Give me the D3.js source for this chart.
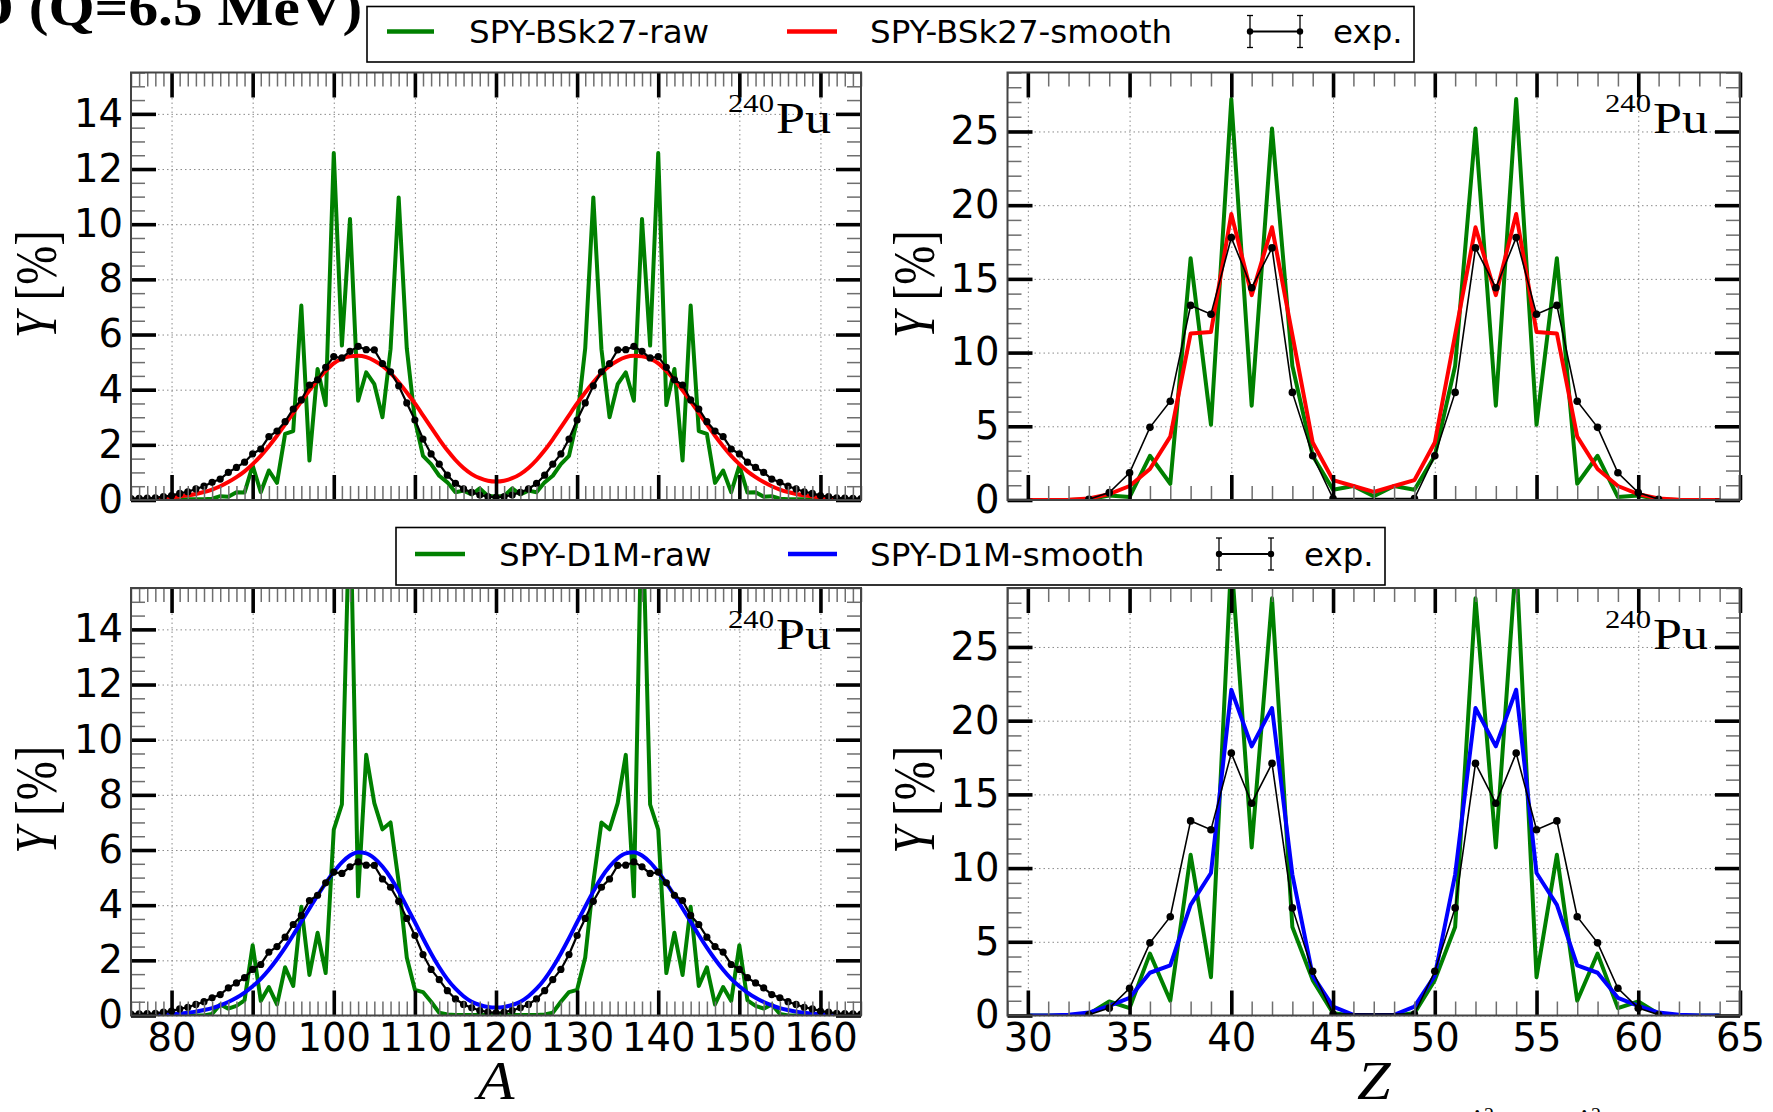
<!DOCTYPE html>
<html>
<head>
<meta charset="utf-8">
<title>240Pu fission yields</title>
<script src="https://cdn.jsdelivr.net/npm/d3@7"></script>
<style>
  body { margin: 0; background: #fff; }
  svg { display: block; }
</style>
</head>
<body>
<div id="chart"></div>
<script>
// ---- data -------------------------------------------------------------
// mass yields, A = 75..165 (exp) and 78..162 (SPY)
const expA = d3.range(75, 166);
const expYieldA = [
  0.05,0.06,0.07,0.08,0.12,0.16,0.24,0.30,0.40,0.50,
  0.64,0.76,1.00,1.18,1.37,1.67,1.85,2.30,2.50,2.84,
  3.30,3.63,4.17,4.36,4.81,5.20,5.15,5.39,5.57,5.45,
  5.44,4.95,4.65,4.14,3.52,2.90,2.21,1.67,1.30,0.90,
  0.60,0.40,0.28,0.18,0.12,0.10,
  0.12,0.18,0.28,0.40,0.60,0.90,1.30,1.67,2.21,2.90,
  3.52,4.14,4.65,4.95,5.44,5.45,5.57,5.39,5.15,5.20,
  4.81,4.36,4.17,3.63,3.30,2.84,2.50,2.30,1.85,1.67,
  1.37,1.18,1.00,0.76,0.64,0.50,0.40,0.30,0.24,0.16,
  0.12,0.08,0.07,0.06,0.05
];

const spyA = d3.range(78, 163);
const bskRawA = [
  0.02,0.02,0.02,0.02,0.03,0.03,0.03,0.05,0.14,0.12,
  0.28,0.27,1.25,0.28,1.07,0.62,2.40,2.50,7.05,1.43,
  4.75,3.44,12.58,5.60,10.19,3.60,4.63,4.20,3.00,5.47,
  10.97,5.50,2.90,1.60,1.30,0.88,0.64,0.28,0.34,0.20,
  0.42,0.15,0.12,
  0.15,0.42,
  0.20,0.34,0.28,0.64,0.88,1.30,1.60,2.90,5.50,10.97,
  5.47,3.00,4.20,4.63,3.60,10.19,5.60,12.58,3.44,4.75,
  1.43,7.05,2.50,2.40,0.62,1.07,0.28,1.25,0.27,0.28,
  0.12,0.14,0.05,0.03,0.03,0.03,0.02,0.02,0.02,0.02
];
const bskSmoothA = [
  0.05,0.07,0.10,0.13,0.17,0.22,0.29,0.38,0.50,0.65,
  0.83,1.04,1.30,1.60,1.95,2.33,2.74,3.16,3.58,3.98,
  4.35,4.68,4.95,5.12,5.21,5.23,5.18,5.05,4.86,4.60,
  4.27,3.90,3.50,3.07,2.63,2.20,1.80,1.45,1.16,0.94,
  0.79,0.70,0.67,
  0.70,0.79,
  0.94,1.16,1.45,1.80,2.20,2.63,3.07,3.50,3.90,4.27,
  4.60,4.86,5.05,5.18,5.23,5.21,5.12,4.95,4.68,4.35,
  3.98,3.58,3.16,2.74,2.33,1.95,1.60,1.30,1.04,0.83,
  0.65,0.50,0.38,0.29,0.22,0.17,0.13,0.10,0.07,0.05
];
const d1mRawA = [
  0,0,0,0,0,0,0,0.06,0.40,0.25,
  0.35,0.55,2.55,0.53,1.03,0.40,1.75,1.07,3.94,1.47,
  3.00,1.54,6.74,7.65,19.0,4.32,9.45,7.70,6.75,7.00,
  4.84,2.10,0.93,0.85,0.50,0.10,0.04,0.02,0.02,0.02,
  0.02,0.02,0.02,
  0.02,0.02,
  0.02,0.02,0.02,0.04,0.10,0.50,0.85,0.93,2.10,4.84,
  7.00,6.75,7.70,9.45,4.32,19.0,7.65,6.74,1.54,3.00,
  1.47,3.94,1.07,1.75,0.40,1.03,0.53,2.55,0.55,0.35,
  0.25,0.40,0.06,0,0,0,0,0,0,0
];
const d1mSmoothA = [
  0.02,0.03,0.05,0.07,0.10,0.14,0.20,0.27,0.37,0.49,
  0.64,0.83,1.06,1.33,1.66,2.04,2.46,2.92,3.40,3.88,
  4.35,4.80,5.20,5.55,5.80,5.92,5.88,5.70,5.40,5.00,
  4.50,3.95,3.38,2.80,2.25,1.75,1.32,0.97,0.70,0.50,
  0.38,0.31,0.29,
  0.31,0.38,
  0.50,0.70,0.97,1.32,1.75,2.25,2.80,3.38,3.95,4.50,
  5.00,5.40,5.70,5.88,5.92,5.80,5.55,5.20,4.80,4.35,
  3.88,3.40,2.92,2.46,2.04,1.66,1.33,1.06,0.83,0.64,
  0.49,0.37,0.27,0.20,0.14,0.10,0.07,0.05,0.03,0.02
];

// charge yields, Z = 30..64
const spyZ = d3.range(30, 65);
const bskRawZ = [0,0,0,0.05,0.3,0.2,3.0,1.1,16.4,5.1,27.2,6.4,25.2,9.1,3.0,0.7,0.95,0.25,
  0.95,0.7,3.0,9.1,25.2,6.4,27.2,5.1,16.4,1.1,3.0,0.2,0.3,0.05,0,0,0];
const bskSmoothZ = [0,0,0.02,0.1,0.4,0.95,2.1,4.3,11.3,11.4,19.4,13.9,18.5,11.2,3.9,1.35,0.95,0.55,
  0.95,1.35,3.9,11.2,18.5,13.9,19.4,11.4,11.3,4.3,2.1,0.95,0.4,0.1,0.02,0,0];
const d1mRawZ = [0,0,0,0.1,0.95,0.5,4.2,1.0,10.9,2.6,31.0,11.4,28.3,6.0,2.4,0.15,0,0,
  0,0.15,2.4,6.0,28.3,11.4,31.0,2.6,10.9,1.0,4.2,0.5,0.95,0.1,0,0,0];
const d1mSmoothZ = [0,0,0.05,0.2,0.65,1.2,2.9,3.4,7.5,9.67,22.1,18.26,20.86,9.56,2.7,0.6,0.05,0.02,
  0.05,0.6,2.7,9.56,20.86,18.26,22.1,9.67,7.5,3.4,2.9,1.2,0.65,0.2,0.05,0,0];
const expZ = [33,34,35,36,37,38,39,40,41,42,43,44,45,49,50,51,52,53,54,55,56,57,58,59,60,61];
const expYieldZ = [0.05,0.5,1.85,4.93,6.7,13.2,12.6,17.8,14.4,17.1,7.3,3.0,0.1,
  0.1,3.0,7.3,17.1,14.4,17.8,12.6,13.2,6.7,4.93,1.85,0.5,0.05];

// ticks
const aTicks = [80, 90, 100, 110, 120, 130, 140, 150, 160];
const zTicks = [30, 35, 40, 45, 50, 55, 60, 65];
const yTicksA = [0, 2, 4, 6, 8, 10, 12, 14];
const yTicksZ = [0, 5, 10, 15, 20, 25];

// ---- layout -----------------------------------------------------------
const W = 1773, H = 1112;
const SX = 1.12;           // serif glyphs in the reference are a bit wide
const green = "#008000";

const svg = d3.select("#chart").append("svg")
  .attr("width", W).attr("height", H)
  .attr("viewBox", `0 0 ${W} ${H}`);

const zip = (xs, ys) => xs.map((v, i) => [v, ys[i]]);

const panels = [
  { id: "p0", x0: 131, x1: 861, y0: 72.5, y1: 500, xDom: [75, 165], yDom: [0, 15.5],
    xMajor: aTicks, xMinor: d3.range(75, 166), yMajor: yTicksA, yMinor: d3.range(0, 15.6, 0.5),
    raw: zip(spyA, bskRawA), smooth: zip(spyA, bskSmoothA), smoothColor: "#ff0000",
    exp: zip(expA, expYieldA), mass: true, xLabels: false },
  { id: "p1", x0: 1007.5, x1: 1740, y0: 72.5, y1: 500, xDom: [29, 65], yDom: [0, 29],
    xMajor: zTicks, xMinor: d3.range(29, 66), yMajor: yTicksZ, yMinor: d3.range(0, 30),
    raw: zip(spyZ, bskRawZ), smooth: zip(spyZ, bskSmoothZ), smoothColor: "#ff0000",
    exp: zip(expZ, expYieldZ), mass: false, xLabels: false },
  { id: "p2", x0: 131, x1: 861, y0: 588, y1: 1015.5, xDom: [75, 165], yDom: [0, 15.5],
    xMajor: aTicks, xMinor: d3.range(75, 166), yMajor: yTicksA, yMinor: d3.range(0, 15.6, 0.5),
    raw: zip(spyA, d1mRawA), smooth: zip(spyA, d1mSmoothA), smoothColor: "#0000ff",
    exp: zip(expA, expYieldA), mass: true, xLabels: true },
  { id: "p3", x0: 1007.5, x1: 1740, y0: 588, y1: 1015.5, xDom: [29, 65], yDom: [0, 29],
    xMajor: zTicks, xMinor: d3.range(29, 66), yMajor: yTicksZ, yMinor: d3.range(0, 30),
    raw: zip(spyZ, d1mRawZ), smooth: zip(spyZ, d1mSmoothZ), smoothColor: "#0000ff",
    exp: zip(expZ, expYieldZ), mass: false, xLabels: true }
];

function stretched(sel, x, y) {
  return sel.attr("transform", `translate(${x},${y}) scale(${SX},1)`);
}

panels.forEach(p => {
  const x = d3.scaleLinear().domain(p.xDom).range([p.x0, p.x1]);
  const y = d3.scaleLinear().domain(p.yDom).range([p.y1, p.y0]);
  const g = svg.append("g");

  svg.append("clipPath").attr("id", "clip-" + p.id)
    .append("rect").attr("x", p.x0).attr("y", p.y0)
    .attr("width", p.x1 - p.x0).attr("height", p.y1 - p.y0);

  // dotted grid
  g.append("g").attr("transform", `translate(0,${p.y1})`)
    .call(d3.axisBottom(x).tickValues(p.xMajor).tickSize(-(p.y1 - p.y0)).tickFormat(""))
    .call(a => a.select(".domain").remove())
    .selectAll("line").attr("stroke", "#8a8a8a").attr("stroke-width", 1).attr("stroke-dasharray", "1.5,3");
  g.append("g").attr("transform", `translate(${p.x0},0)`)
    .call(d3.axisLeft(y).tickValues(p.yMajor).tickSize(-(p.x1 - p.x0)).tickFormat(""))
    .call(a => a.select(".domain").remove())
    .selectAll("line").attr("stroke", "#8a8a8a").attr("stroke-width", 1).attr("stroke-dasharray", "1.5,3");

  // curves
  const plot = g.append("g").attr("clip-path", `url(#clip-${p.id})`);
  const line = d3.line().x(d => x(d[0])).y(d => y(d[1]));
  const smoothLine = d3.line().x(d => x(d[0])).y(d => y(d[1]))
    .curve(p.mass ? d3.curveMonotoneX : d3.curveLinear);

  plot.append("path").datum(p.raw).attr("d", line)
    .attr("fill", "none").attr("stroke", green).attr("stroke-width", 4)
    .attr("stroke-linejoin", "round");
  plot.append("path").datum(p.smooth).attr("d", smoothLine)
    .attr("fill", "none").attr("stroke", p.smoothColor).attr("stroke-width", 4)
    .attr("stroke-linejoin", "round");
  plot.append("path").datum(p.exp).attr("d", line)
    .attr("fill", "none").attr("stroke", "#000").attr("stroke-width", p.mass ? 2.2 : 1.6);
  plot.selectAll("circle.exp").data(p.exp).join("circle").attr("class", "exp")
    .attr("cx", d => x(d[0])).attr("cy", d => y(d[1]))
    .attr("r", p.mass ? 3.6 : 3.8).attr("fill", "#000");

  // ticks on all four sides, pointing inwards
  const sides = [
    { fn: d3.axisBottom, sc: x, at: `translate(0,${p.y1})`, major: p.xMajor, minor: p.xMinor, label: p.xLabels },
    { fn: d3.axisTop, sc: x, at: `translate(0,${p.y0})`, major: p.xMajor, minor: p.xMinor, label: false },
    { fn: d3.axisLeft, sc: y, at: `translate(${p.x0},0)`, major: p.yMajor, minor: p.yMinor, label: true },
    { fn: d3.axisRight, sc: y, at: `translate(${p.x1},0)`, major: p.yMajor, minor: p.yMinor, label: false }
  ];
  sides.forEach(s => {
    const minor = s.minor.filter(v => !s.major.includes(v));
    g.append("g").attr("transform", s.at)
      .call(s.fn(s.sc).tickValues(minor).tickSize(-14).tickFormat(""))
      .call(a => a.select(".domain").remove())
      .selectAll("line").attr("stroke", "#6e6e6e").attr("stroke-width", 1.5);
    const ax = g.append("g").attr("transform", s.at)
      .call(s.fn(s.sc).tickValues(s.major).tickSize(-25).tickPadding(8)
        .tickFormat(s.label ? d3.format("d") : ""))
      .call(a => a.select(".domain").remove())
      .attr("font-family", "'DejaVu Sans', sans-serif").attr("font-size", 38.5);
    ax.selectAll("line").attr("stroke", "#000").attr("stroke-width", 3.6);
    ax.selectAll("text").attr("fill", "#000");
  });

  // frame
  g.append("rect").attr("x", p.x0).attr("y", p.y0)
    .attr("width", p.x1 - p.x0).attr("height", p.y1 - p.y0)
    .attr("fill", "none").attr("stroke", "#444").attr("stroke-width", 2);

  // nucleus tag
  const tagRight = p.mass ? 831 : 1708;
  const base = p.y0 + 60.5;
  svg.append("text").attr("x", tagRight - 57).attr("y", base - 21)
    .attr("text-anchor", "end").attr("font-family", "'Liberation Serif', serif")
    .attr("font-size", 26).attr("textLength", 46).attr("lengthAdjust", "spacingAndGlyphs")
    .text("240");
  svg.append("text").attr("x", tagRight).attr("y", base)
    .attr("text-anchor", "end").attr("font-family", "'Liberation Serif', serif")
    .attr("font-size", 44).attr("textLength", 55).attr("lengthAdjust", "spacingAndGlyphs")
    .text("Pu");

  // y label
  const yl = svg.append("text")
    .attr("transform", `translate(${p.mass ? 55.5 : 933.5},${(p.y0 + p.y1) / 2 - 2}) scale(${SX},1) rotate(-90)`)
    .attr("text-anchor", "middle").attr("font-family", "'Liberation Serif', serif")
    .attr("font-size", 52).attr("textLength", 108).attr("lengthAdjust", "spacingAndGlyphs");
  yl.append("tspan").attr("font-style", "italic").text("Y");
  yl.append("tspan").text(" [%]");

  // x label
  if (p.xLabels) {
    stretched(svg.append("text"), (p.x0 + p.x1) / 2, 1099)
      .attr("text-anchor", "middle").attr("font-family", "'Liberation Serif', serif")
      .attr("font-style", "italic").attr("font-size", 54)
      .text(p.mass ? "A" : "Z");
  }
});

// ---- legends ----------------------------------------------------------
const legends = [
  { x0: 367, x1: 1414, y0: 6.5, y1: 62, cy: 31.5, base: 43,
    rawX: [387, 434], rawText: "SPY-BSk27-raw", rawTextX: 469,
    smColor: "#ff0000", smX: [787, 837], smText: "SPY-BSk27-smooth", smTextX: 870,
    errX: [1250, 1300], expTextX: 1333 },
  { x0: 396, x1: 1385, y0: 527.5, y1: 585, cy: 554, base: 566,
    rawX: [415, 465], rawText: "SPY-D1M-raw", rawTextX: 499,
    smColor: "#0000ff", smX: [788, 837], smText: "SPY-D1M-smooth", smTextX: 870,
    errX: [1219, 1271], expTextX: 1304 }
];

legends.forEach(L => {
  const g = svg.append("g");
  g.append("rect").attr("x", L.x0).attr("y", L.y0)
    .attr("width", L.x1 - L.x0).attr("height", L.y1 - L.y0)
    .attr("fill", "#fff").attr("stroke", "#000").attr("stroke-width", 1.6);
  const label = (tx, t) => g.append("text").attr("x", tx).attr("y", L.base)
    .attr("font-family", "'DejaVu Sans', sans-serif").attr("font-size", 32.5).text(t);

  g.append("line").attr("x1", L.rawX[0]).attr("x2", L.rawX[1]).attr("y1", L.cy).attr("y2", L.cy)
    .attr("stroke", green).attr("stroke-width", 4.5);
  label(L.rawTextX, L.rawText);
  g.append("line").attr("x1", L.smX[0]).attr("x2", L.smX[1]).attr("y1", L.cy).attr("y2", L.cy)
    .attr("stroke", L.smColor).attr("stroke-width", 4.5);
  label(L.smTextX, L.smText);

  // error-bar symbol
  const [ex0, ex1] = L.errX;
  g.append("line").attr("x1", ex0).attr("x2", ex1).attr("y1", L.cy).attr("y2", L.cy)
    .attr("stroke", "#000").attr("stroke-width", 2);
  [ex0, ex1].forEach(ex => {
    g.append("line").attr("x1", ex).attr("x2", ex).attr("y1", L.cy - 16).attr("y2", L.cy + 16)
      .attr("stroke", "#000").attr("stroke-width", 1.3);
    [-16, 16].forEach(dy => g.append("line").attr("x1", ex - 3).attr("x2", ex + 3)
      .attr("y1", L.cy + dy).attr("y2", L.cy + dy).attr("stroke", "#000").attr("stroke-width", 1.3));
    g.append("circle").attr("cx", ex).attr("cy", L.cy).attr("r", 3.2).attr("fill", "#000");
  });
  label(L.expTextX, "exp.");
});

// ---- page fragments cut off by the crop -------------------------------
stretched(svg.append("text"), -29, 25)
  .attr("font-family", "'Liberation Serif', serif").attr("font-weight", "bold")
  .attr("font-size", 53).text("D (Q=6.5 MeV)");

[1471, 1578].forEach(tx => {
  svg.append("text").attr("x", tx).attr("y", 1131)
    .attr("font-family", "'Liberation Serif', serif").attr("font-style", "italic")
    .attr("font-size", 32).text("i");
  svg.append("text").attr("x", tx + 13).attr("y", 1122)
    .attr("font-family", "'Liberation Serif', serif").attr("font-size", 20).text("2");
});
</script>
</body>
</html>
